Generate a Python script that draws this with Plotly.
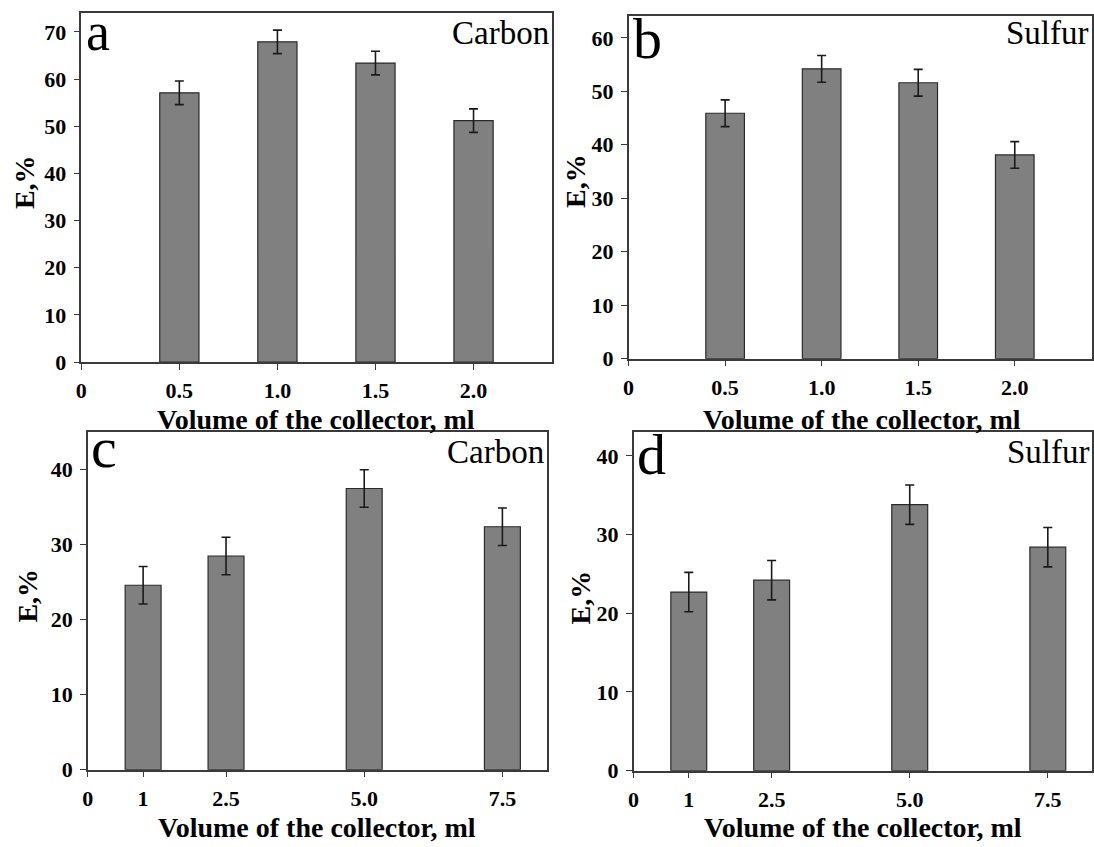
import plotly.graph_objects as go

# ---------------- data ----------------
x_top = [0.5, 1.0, 1.5, 2.0]
carbon_top = [57.1, 67.9, 63.4, 51.2]
carbon_top_err = [2.5, 2.5, 2.5, 2.5]
sulfur_top = [45.9, 54.2, 51.6, 38.1]
sulfur_top_err = [2.5, 2.5, 2.5, 2.5]

x_bot = [1.0, 2.5, 5.0, 7.5]
carbon_bot = [24.6, 28.5, 37.5, 32.4]
carbon_bot_err = [2.5, 2.5, 2.5, 2.5]
sulfur_bot = [22.7, 24.2, 33.8, 28.4]
sulfur_bot_err = [2.5, 2.5, 2.5, 2.5]

top_tickvals = [0, 0.5, 1.0, 1.5, 2.0]
top_ticktext = ["0", "0.5", "1.0", "1.5", "2.0"]
bot_tickvals = [0, 1, 2.5, 5.0, 7.5]
bot_ticktext = ["0", "1", "2.5", "5.0", "7.5"]

panel_letters = ["a", "b", "c", "d"]
element_names = ["Carbon", "Sulfur", "Carbon", "Sulfur"]
x_title = "Volume of the collector, ml"
y_title = "E,%"

# ---------------- layout helpers ----------------
W, H = 1094, 847
def px(x):
    return x / W
def py(y):
    return 1 - y / H

FONT = "Liberation Serif"
BAR_FILL = "#808080"
BAR_LINE = "#2a2a2a"
AXIS_COLOR = "#3a3a3a"

# plot boxes in pixels: (left, top, right, bottom)
boxes = [
    (75.7, 13.3, 549.0, 367.7),
    (626.0, 16.7, 1092.0, 364.3),
    (82.3, 439.0, 543.6, 781.7),
    (631.0, 439.0, 1092.0, 782.7),
]
xranges = [[0, 2.4], [0, 2.4], [0, 8.3], [0, 8.3]]
yranges = [[0, 74], [0, 64], [0, 45], [0, 43]]
ytickvals = [list(range(0, 71, 10)), list(range(0, 61, 10)),
             [0, 10, 20, 30, 40], [0, 10, 20, 30, 40]]

series = [
    (x_top, carbon_top, carbon_top_err, 0.2),
    (x_top, sulfur_top, sulfur_top_err, 0.2),
    (x_bot, carbon_bot, carbon_bot_err, 0.65),
    (x_bot, sulfur_bot, sulfur_bot_err, 0.65),
]

fig = go.Figure()
layout = dict(
    width=W, height=H,
    margin=dict(l=0, r=0, t=0, b=0),
    paper_bgcolor="white", plot_bgcolor="white",
    showlegend=False,
    font=dict(family=FONT, color="black"),
)

for i, (xs, ys, es, bw) in enumerate(series):
    n = i + 1
    xa = "x" if n == 1 else f"x{n}"
    ya = "y" if n == 1 else f"y{n}"
    fig.add_trace(go.Bar(
        x=xs, y=ys, width=bw, xaxis=xa, yaxis=ya,
        marker=dict(color=BAR_FILL, line=dict(color=BAR_LINE, width=1.2)),
        error_y=dict(type="data", array=es, visible=True,
                     color="#1a1a1a", thickness=1.6, width=4.5),
    ))
    l, t, r, b = boxes[i]
    tv, tt = (top_tickvals, top_ticktext) if i < 2 else (bot_tickvals, bot_ticktext)
    layout["xaxis" if n == 1 else f"xaxis{n}"] = dict(
        domain=[px(l), px(r)], range=xranges[i], anchor=ya,
        tickmode="array", tickvals=tv, ticktext=tt,
        ticks="outside", ticklen=6, tickwidth=1.3, tickcolor=AXIS_COLOR,
        showline=True, linecolor=AXIS_COLOR, linewidth=1.5, mirror=True,
        showgrid=False, zeroline=False,
        tickfont=dict(family=FONT, size=22, color="black", weight="bold"),
        ticklabelstandoff=2,
    )
    layout["yaxis" if n == 1 else f"yaxis{n}"] = dict(
        domain=[py(b), py(t)], range=yranges[i], anchor=xa,
        tickmode="array", tickvals=ytickvals[i],
        ticks="outside", ticklen=6, tickwidth=1.3, tickcolor=AXIS_COLOR,
        showline=True, linecolor=AXIS_COLOR, linewidth=1.5, mirror=True,
        showgrid=False, zeroline=False,
        tickfont=dict(family=FONT, size=22, color="black", weight="bold"),
        ticklabelstandoff=3,
    )

annotations = []
# panel letters: (x-left px, y px, yanchor)
letter_pos = [(78, 0.0, "top"), (628, 39.0, "middle"), (83, 454.0, "middle"), (632, 462.0, "middle")]
letter_size = [54, 58, 58, 58]
for lt, (x, y, ya_), sz in zip(panel_letters, letter_pos, letter_size):
    annotations.append(dict(text=lt, x=px(x), y=py(y), xref="paper", yref="paper",
                            xanchor="left", yanchor=ya_, showarrow=False,
                            font=dict(family=FONT, size=sz, color="black")))
# element names (x-right, y-middle)
name_pos = [(548, 33.9), (1091, 34.0), (543, 459.0), (1092, 459.0)]
for nm, (x, y) in zip(element_names, name_pos):
    annotations.append(dict(text=nm, x=px(x), y=py(y), xref="paper", yref="paper",
                            xanchor="right", yanchor="middle", showarrow=False,
                            font=dict(family=FONT, size=33, color="black")))
# x titles
xt_pos = [(312, 426), (861, 426), (313, 840), (861.5, 840)]
for (x, y) in xt_pos:
    annotations.append(dict(text=x_title, x=px(x), y=py(y), xref="paper", yref="paper",
                            xanchor="center", yanchor="middle", showarrow=False,
                            font=dict(family=FONT, size=28, color="black", weight="bold")))
# y titles
yt_pos = [(18, 185), (572, 184), (22, 605), (578, 607)]
for (x, y) in yt_pos:
    annotations.append(dict(text=y_title, x=px(x), y=py(y), xref="paper", yref="paper",
                            xanchor="center", yanchor="middle", showarrow=False,
                            textangle=-90,
                            font=dict(family=FONT, size=28, color="black", weight="bold")))

layout["annotations"] = annotations
fig.update_layout(**layout)
fig.write_html("out.html",
               config={"displayModeBar": False},
               post_script="document.body.style.margin='0';document.body.style.overflow='hidden';")
